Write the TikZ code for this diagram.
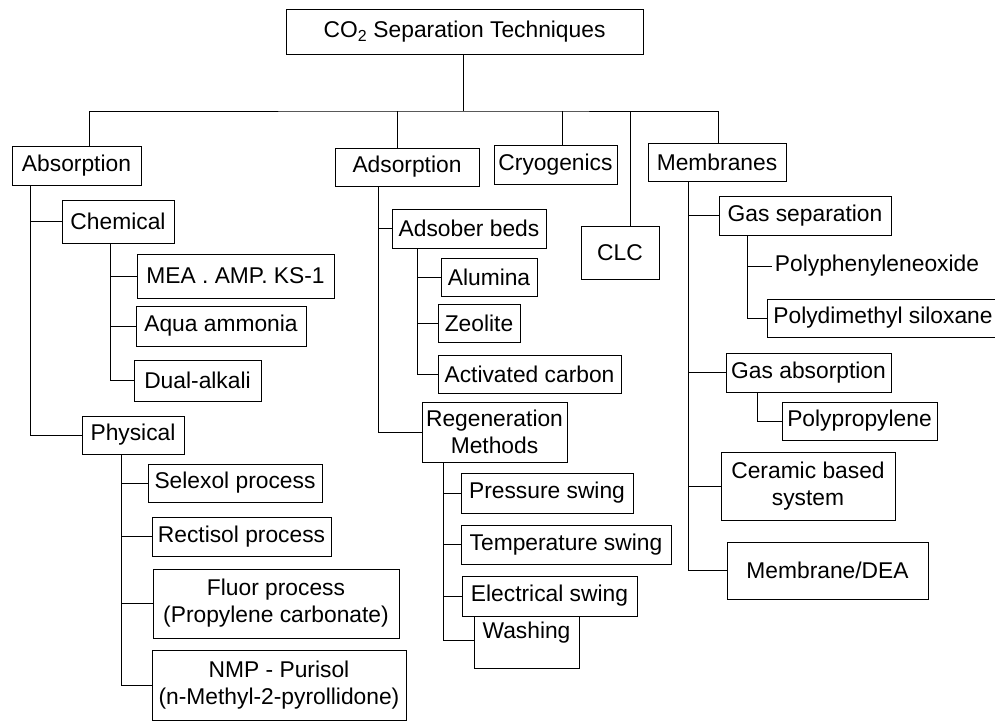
\documentclass[tikz,border=0pt]{standalone}
\usepackage{fontspec}
\setmainfont{Liberation Sans}
\tikzset{
	box/.style={draw,fill=white,align=center,inner sep=0pt,line width=0.9pt,font=\fontsize{22.8}{27}\selectfont},
	sz/.style 2 args={minimum width=#1,minimum height=#2},
	txt/.style={inner sep=3pt,font=\fontsize{22.8}{27}\selectfont},
	link/.style={line width=0.9pt}
}
\begin{document}
\begin{tikzpicture}[x=1pt,y=-1pt]
	\useasboundingbox (0,0) rectangle (995,721);
	% top level
	\node[box,sz={357}{45}] (root) at (464.5,31.5) {CO\textsubscript{2} Separation Techniques};
	\node[box,sz={129}{39}] (abs) at (76.5,165.5) {Absorption};
	\node[box,sz={144}{38}] (ads) at (407,167) {Adsorption};
	\node[box,sz={123}{39}] (cryo) at (555.5,164.5) {Cryogenics};
	\node[box,sz={78}{53}] (clc) at (620,252.5) {CLC};
	\node[box,sz={138}{38}] (memb) at (717,162) {Membranes};
	% absorption
	\node[box,sz={112}{43}] (chem) at (118,221.5) {Chemical};
	\node[box,sz={197}{44}] (mea) at (235.5,276) {MEA . AMP. KS-1};
	\node[box,sz={170}{40}] (aqua) at (221,326) {Aqua ammonia};
	\node[box,sz={127}{41}] (dual) at (197.5,380.5) {Dual-alkali};
	\node[box,sz={102}{38}] (phys) at (133,435) {Physical};
	\node[box,sz={174}{38}] (selx) at (235,483) {Selexol process};
	\node[box,sz={179}{39}] (rect) at (241.5,536.5) {Rectisol process};
	\node[box,sz={246}{69}] (fluor) at (276,603.5) {Fluor process\\(Propylene carbonate)};
	\node[box,sz={254}{70}] (nmp) at (279,685) {NMP - Purisol\\(n-Methyl-2-pyrollidone)};
	% adsorption
	\node[box,sz={154}{39}] (adsb) at (469,228.5) {Adsober beds};
	\node[box,sz={96}{38}] (alum) at (489,277) {Alumina};
	\node[box,sz={82}{38}] (zeo) at (479,323) {Zeolite};
	\node[box,sz={183}{38}] (actc) at (529.5,374) {Activated carbon};
	\node[box,sz={145}{60}] (regen) at (494.5,432) {Regeneration\\Methods};
	\node[box,sz={172}{40}] (press) at (547,493) {Pressure swing};
	\node[box,sz={210}{39}] (temp) at (566,544.5) {Temperature swing};
	\node[box,minimum width=105,text height=26pt,text depth=30pt] (wash) at (526.5,640) {Washing};
	\node[box,sz={175}{40}] (elec) at (549.5,596) {Electrical swing};
	% membranes
	\node[box,sz={172}{39}] (gsep) at (805,215.5) {Gas separation};
	\node[txt] (ppo) at (877,266) {Polyphenyleneoxide};
	\node[box,sz={232}{38}] (pdms) at (883,318) {Polydimethyl siloxane};
	\node[box,sz={165}{39}] (gabs) at (808.5,372.5) {Gas absorption};
	\node[box,sz={155}{38}] (ppl) at (859.5,421) {Polypropylene};
	\node[box,sz={174}{68}] (ceram) at (808,486) {Ceramic based\\system};
	\node[box,sz={201}{57}] (mdea) at (827.5,570.5) {Membrane/DEA};
	% bus
	\coordinate (bus) at (463,111);
	\draw[link] (root.south -| bus) -- (bus);
	\draw[link] ([xshift=12.5pt]abs.north) |- (bus) -| ([xshift=1pt]memb.north);
	\foreach \n/\s in {ads/-10,cryo/6.5,clc/10}
		\draw[link] ([xshift=\s pt]\n.north) -- ([xshift=\s pt]\n.north |- bus);
	% trunks
	\coordinate (tAbs) at (30,185);
	\coordinate (tChem) at (110,243);
	\coordinate (tPhys) at (121,454);
	\coordinate (tAds) at (378,186);
	\coordinate (tAdsb) at (417,248);
	\coordinate (tRegen) at (443,462);
	\coordinate (tMemb) at (688,181);
	\coordinate (tGsep) at (747,235);
	\coordinate (tGabs) at (757,392);
	\foreach \t/\n in {tAbs/phys,tChem/dual,tPhys/nmp,tAds/regen,tAdsb/actc,tRegen/wash,tMemb/mdea,tGsep/pdms,tGabs/ppl}
		\draw[link] (\t) |- (\n.west);
	\foreach \t/\n in {tAbs/chem,tChem/mea,tChem/aqua,tPhys/selx,tPhys/rect,tPhys/fluor,tAds/adsb,tAdsb/alum,tAdsb/zeo,tRegen/press,tRegen/temp,tRegen/elec,tMemb/gsep,tMemb/gabs,tMemb/ceram,tGsep/ppo}
		\draw[link] (\t |- \n.west) -- (\n.west);
\end{tikzpicture}
\end{document}
